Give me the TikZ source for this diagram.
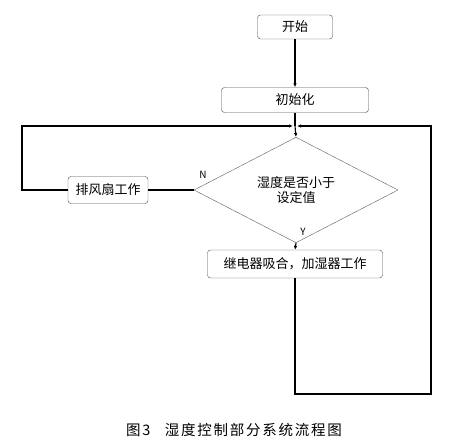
\documentclass[tikz,border=0pt]{standalone}
\usepackage{fontspec}
\setmainfont{Noto Sans CJK SC}
\newfontfamily\capfont[LetterSpace=12]{Noto Sans CJK SC}
\usetikzlibrary{arrows.meta,positioning,shapes.geometric}
\tikzset{
  stepbox/.style={draw=black!70,rounded corners=3pt,align=center,inner sep=0pt,
    font=\fontsize{13}{15.5}\selectfont},
  decisionbox/.style={diamond,draw=black!65,align=center,inner sep=0pt,
    minimum width=204pt,minimum height=53pt,font=\fontsize{13}{15.5}\selectfont},
  flowline/.style={draw=black,line width=1.1pt},
  flowarrow/.style={flowline,-{Latex[length=4pt,width=3.5pt]}},
  branchlabel/.style={font=\fontsize{10}{12}\selectfont}
}
\begin{document}
\begin{tikzpicture}[x=1pt,y=1pt]
  \useasboundingbox (0,0) rectangle (458,445);
  % boxes
  \node[stepbox,minimum width=75pt,minimum height=24pt] (start) at (295,418) {开始};
  \node[stepbox,minimum width=147pt,minimum height=25pt] (init) at (295,345) {初始化};
  \node[decisionbox] (check) at (296,255) {湿度是否小于\\设定值};
  \node[stepbox,minimum width=80pt,minimum height=27pt] (fan) at (108,255) {排风扇工作};
  \node[stepbox,minimum width=175pt,minimum height=28pt] (relay) at (295,181) {继电器吸合，加湿器工作};
  \coordinate (join) at (295,319);
  \coordinate (leftup) at (22,319);
  \coordinate (rightup) at (431,319);
  \coordinate (bottom) at (431,51);

  % connectors
  \draw[flowarrow] (start) -- (init);
  \draw[flowline] (init) -- (join);
  \draw[flowarrow] (join) -- (check.north);
  \draw[flowline] (check.west) -- (fan.east);
  \draw[flowarrow,shorten >=2pt] (fan.west) -| (leftup) -- (join);
  \draw[flowarrow] (check.south) -- (relay.north);
  \draw[flowarrow,shorten >=2pt] (relay.south) |- (bottom) -- (rightup) -- (join);

  \node[branchlabel] (nlabel) at (203,270) {N};
  \node[branchlabel] (ylabel) at (303,213) {Y};

  \node[font=\capfont\fontsize{14.5}{17}\selectfont] (caption) at (234,15) {图3\quad 湿度控制部分系统流程图};
\end{tikzpicture}
\end{document}
